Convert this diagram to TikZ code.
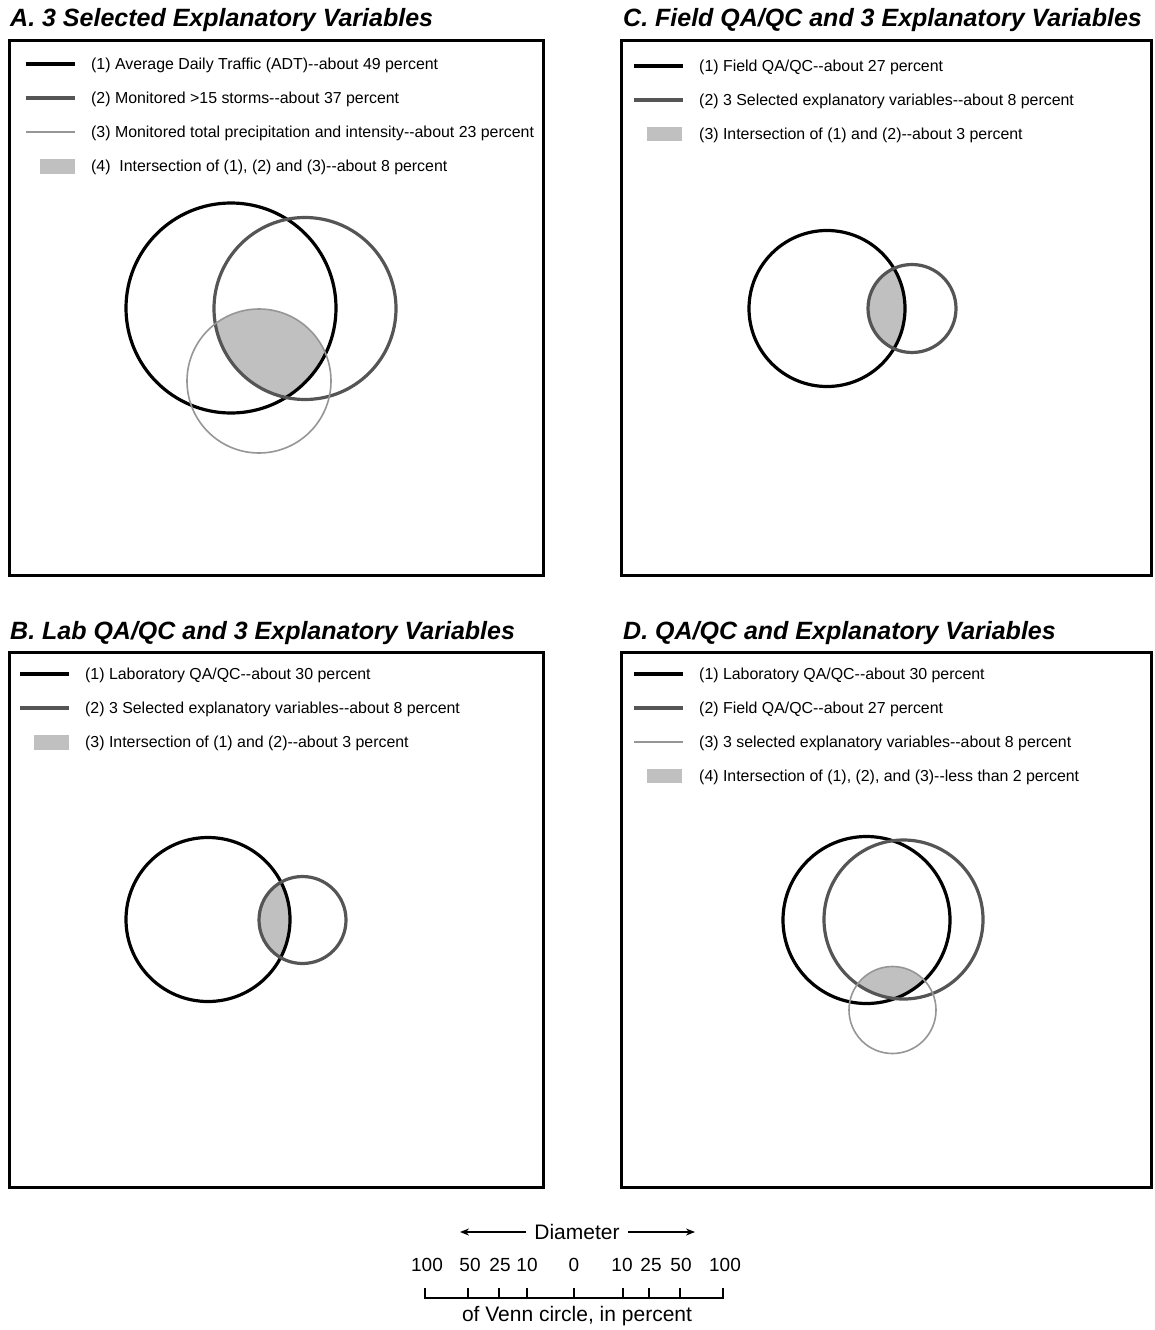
\documentclass[tikz,border=0pt]{standalone}
\usepackage{fontspec}
\setmainfont{Liberation Sans}
\usetikzlibrary{arrows.meta}
\definecolor{dgray}{RGB}{85,85,85}
\definecolor{lgray}{RGB}{150,150,150}
\definecolor{fgray}{RGB}{192,192,192}
\tikzset{
  panelbox/.style={draw=black, line width=3pt},
  ptitle/.style={anchor=base west, inner sep=0pt, font=\fontsize{25}{29}\selectfont\bfseries\itshape},
  legtext/.style={anchor=base west, inner sep=0pt, font=\fontsize{15.9}{18}\selectfont},
  c1/.style={draw=black, line width=3.2pt},
  c2/.style={draw=dgray, line width=3.2pt},
  c3/.style={draw=lgray, line width=1.6pt},
  swatch/.style={fill=fgray},
  scaletext/.style={inner sep=0pt, font=\fontsize{21}{24}\selectfont},
  scalenum/.style={inner sep=0pt, font=\fontsize{19}{22}\selectfont},
}
\newcommand{\dd}{-{}-}
\begin{document}
\begin{tikzpicture}[x=1pt,y=-1pt]
\useasboundingbox (0,0) rectangle (1154,1330);
\fill[white] (0,0) rectangle (1154,1330);

% ===== Panel A =====
\node[ptitle] (tA) at (10,27) {A. 3 Selected Explanatory Variables};
\draw[panelbox] (9,41) rectangle (543,575);
\draw[c1] (26,64) -- (75,64);
\draw[c2] (26,98) -- (75,98);
\draw[c3] (26,132) -- (75,132);
\fill[swatch] (40,159) rectangle (75,174);
\node[legtext] (lA1) at (91,69.5) {(1) Average Daily Traffic (ADT)\dd about 49 percent};
\node[legtext] (lA2) at (91,103.5) {(2) Monitored >15 storms\dd about 37 percent};
\node[legtext] (lA3) at (91,137.5) {(3) Monitored total precipitation and intensity\dd about 23 percent};
\node[legtext] (lA4) at (91,171.5) {(4)\ \ Intersection of (1), (2) and (3)\dd about 8 percent};
\begin{scope}
  \clip (231,308) circle (105);
  \clip (305,308.5) circle (91);
  \fill[fgray] (259,381) circle (72);
\end{scope}
\draw[c1] (231,308) circle (105);
\draw[c2] (305,308.5) circle (91);
\draw[c3] (259,381) circle (72);

% ===== Panel C =====
\node[ptitle] (tC) at (623,27) {C. Field QA/QC and 3 Explanatory Variables};
\draw[panelbox] (621,41) rectangle (1151,575);
\draw[c1] (634,66) -- (683,66);
\draw[c2] (634,100) -- (683,100);
\fill[swatch] (647,127) rectangle (682,141);
\node[legtext] (lC1) at (699,71.5) {(1) Field QA/QC\dd about 27 percent};
\node[legtext] (lC2) at (699,105.5) {(2) 3 Selected explanatory variables\dd about 8 percent};
\node[legtext] (lC3) at (699,139.5) {(3) Intersection of (1) and (2)\dd about 3 percent};
\begin{scope}
  \clip (827,308.5) circle (78);
  \fill[fgray] (912,308.5) circle (44);
\end{scope}
\draw[c1] (827,308.5) circle (78);
\draw[c2] (912,308.5) circle (44);

% ===== Panel B =====
\node[ptitle] (tB) at (10,639) {B. Lab QA/QC and 3 Explanatory Variables};
\draw[panelbox] (9,652) rectangle (543,1187);
\draw[c1] (20,674) -- (69,674);
\draw[c2] (20,708) -- (69,708);
\fill[swatch] (34,735) rectangle (69,750);
\node[legtext] (lB1) at (85,679.5) {(1) Laboratory QA/QC\dd about 30 percent};
\node[legtext] (lB2) at (85,713.5) {(2) 3 Selected explanatory variables\dd about 8 percent};
\node[legtext] (lB3) at (85,747.5) {(3) Intersection of (1) and (2)\dd about 3 percent};
\begin{scope}
  \clip (208,919.5) circle (82);
  \fill[fgray] (302.5,920) circle (43.5);
\end{scope}
\draw[c1] (208,919.5) circle (82);
\draw[c2] (302.5,920) circle (43.5);

% ===== Panel D =====
\node[ptitle] (tD) at (623,639) {D. QA/QC and Explanatory Variables};
\draw[panelbox] (621,652) rectangle (1151,1187);
\draw[c1] (634,674) -- (683,674);
\draw[c2] (634,708) -- (683,708);
\draw[c3] (634,742) -- (683,742);
\fill[swatch] (647,769) rectangle (682,783);
\node[legtext] (lD1) at (699,679.5) {(1) Laboratory QA/QC\dd about 30 percent};
\node[legtext] (lD2) at (699,713.5) {(2) Field QA/QC\dd about 27 percent};
\node[legtext] (lD3) at (699,747.5) {(3) 3 selected explanatory variables\dd about 8 percent};
\node[legtext] (lD4) at (699,781.5) {(4) Intersection of (1), (2), and (3)\dd less than 2 percent};
\begin{scope}
  \clip (866.5,920) circle (83.5);
  \clip (903.5,919.5) circle (79.5);
  \fill[fgray] (892.5,1010) circle (43.5);
\end{scope}
\draw[c1] (866.5,920) circle (83.5);
\draw[c2] (903.5,919.5) circle (79.5);
\draw[c3] (892.5,1010) circle (43.5);

% ===== Scale =====
\node[scaletext] (diam) at (577,1232) {Diameter};
\coordinate (aL) at (460,1232);
\coordinate (aR) at (695,1232);
\draw[line width=1.3pt, -{Stealth[length=9pt,width=7pt]}] (diam.west) ++(-8,0) -- (aL);
\draw[line width=1.3pt, -{Stealth[length=9pt,width=7pt]}] (diam.east) ++(8,0) -- (aR);
\foreach \x/\t/\n in {427/100/s1, 470/50/s2, 500/25/s3, 527/10/s4, 574/0/s5, 622/10/s6, 651/25/s7, 681/50/s8, 725/100/s9}{
  \node[scalenum] (\n) at (\x,1265) {\t};
}
\draw[line width=1.5pt] (425,1288) -- (425,1298) -- (723,1298) -- (723,1288);
\foreach \x in {468,499,527,574,623,649,680}{
  \draw[line width=1.5pt] (\x,1288) -- (\x,1298);
}
\node[scaletext] (venn) at (577,1316) {of Venn circle, in percent};
\end{tikzpicture}
\end{document}
